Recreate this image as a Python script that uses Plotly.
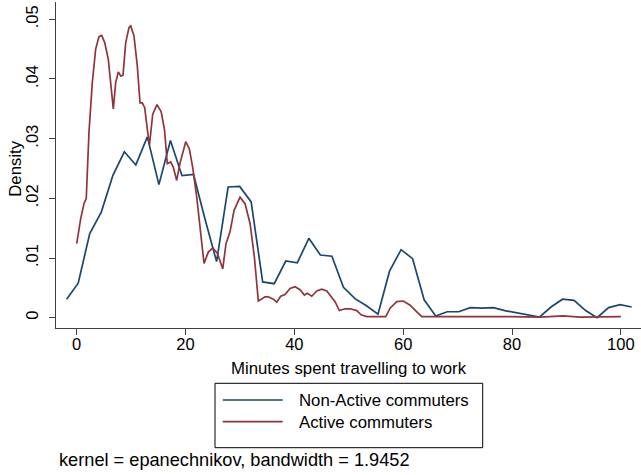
import plotly.graph_objects as go

# ---- data ----
x_nonactive = [-1.84, 0.28, 2.40, 4.52, 6.64, 8.76, 10.87, 12.99, 15.11, 17.23,
               19.35, 21.47, 23.59, 25.71, 27.83, 29.95, 32.06, 34.18, 36.30, 38.42,
               40.54, 42.66, 44.78, 46.90, 49.02, 51.14, 53.25, 55.37, 57.49, 59.61,
               61.73, 63.85, 65.97, 68.09, 70.21, 72.33, 74.44, 76.56, 78.68, 80.80,
               82.92, 85.04, 87.16, 89.28, 91.40, 93.52, 95.63, 97.75, 99.87, 101.99]
y_nonactive = [0.0031, 0.0058, 0.0141, 0.0177, 0.0238, 0.0278, 0.0256, 0.0303, 0.0223, 0.0297,
               0.0238, 0.0240, 0.0165, 0.0094, 0.0219, 0.0220, 0.0194, 0.0060, 0.0057, 0.0095,
               0.0092, 0.0133, 0.0105, 0.0103, 0.0051, 0.0032, 0.0020, 0.0006, 0.0078, 0.0114,
               0.0099, 0.0030, 0.0003, 0.0010, 0.0010, 0.0017, 0.0016, 0.0017, 0.0012, 0.0008,
               0.0005, 0.0001, 0.0018, 0.0031, 0.0029, 0.0012, 0.0000, 0.0017, 0.0022, 0.0018]

x_active = [0.0, 0.74, 1.34, 1.76, 2.26, 2.87, 3.49, 4.10, 4.60, 5.15,
            5.81, 6.36, 6.73, 7.17, 7.65, 8.09, 8.51, 9.01, 9.61, 9.93,
            10.53, 11.14, 11.64, 12.06, 12.50, 12.98, 13.38, 13.97, 14.76, 15.53,
            16.14, 16.65, 17.28, 17.76, 18.38, 18.99, 20.04, 20.70, 21.32, 22.06,
            22.67, 23.40, 24.19, 25.00, 25.85, 26.84, 27.44, 28.18, 28.92, 30.02,
            30.94, 31.86, 32.65, 33.38, 34.61, 35.22, 36.14, 36.76, 37.50, 38.29,
            39.21, 40.13, 41.05, 41.84, 42.39, 43.20, 44.12, 45.04, 45.96, 46.88,
            47.48, 48.27, 49.32, 50.24, 51.47, 52.26, 53.31, 55.15, 56.80, 57.59,
            58.82, 60.04, 61.27, 62.50, 63.42, 64.9, 68.6, 72.3, 76.0, 79.7,
            85.2, 89.4, 92.5, 96.2, 100.0]
y_active = [0.0124, 0.0166, 0.0191, 0.0200, 0.0311, 0.0394, 0.0450, 0.0471, 0.0473, 0.0461,
            0.0433, 0.0383, 0.0350, 0.0394, 0.0412, 0.0405, 0.0406, 0.0461, 0.0486, 0.0489,
            0.0472, 0.0422, 0.0360, 0.0360, 0.0352, 0.0316, 0.0289, 0.0341, 0.0357, 0.0345,
            0.0315, 0.0258, 0.0261, 0.0252, 0.0230, 0.0259, 0.0295, 0.0283, 0.0252, 0.0202,
            0.0146, 0.0091, 0.0110, 0.0117, 0.0108, 0.0082, 0.0124, 0.0144, 0.0180, 0.0202,
            0.0191, 0.0158, 0.0102, 0.0028, 0.0035, 0.0035, 0.0031, 0.0026, 0.0036, 0.0039,
            0.0049, 0.0052, 0.0047, 0.0038, 0.0041, 0.0036, 0.0045, 0.0048, 0.0045, 0.0035,
            0.0027, 0.0012, 0.0015, 0.0015, 0.0012, 0.0005, 0.0002, 0.0002, 0.0002, 0.0016,
            0.0027, 0.0028, 0.0021, 0.0010, 0.0002, 0.0002, 0.0002, 0.0003, 0.0003, 0.0002,
            0.0001, 0.0003, 0.0001, 0.0002, 0.0002]

series_names = ["Non-Active commuters", "Active commuters"]
series_colors = ["#1a476f", "#90353b"]
x_tick_vals = [0, 20, 40, 60, 80, 100]
y_tick_vals = [0, 0.01, 0.02, 0.03, 0.04, 0.05]
y_tick_text = ["0", ".01", ".02", ".03", ".04", ".05"]
x_title = "Minutes spent travelling to work"
y_title = "Density"
note_text = "kernel = epanechnikov, bandwidth = 1.9452"

# ---- layout geometry (pixels) ----
W, H = 641, 475
ML, MR, MT, MB = 56, 0, 2, 147
PW, PH = W - ML - MR, H - MT - MB
FONT = "Liberation Sans, Arial, sans-serif"
AXC = "#404040"


def px(x):
    return (x - ML) / PW


def py(y):
    return (H - MB - y) / PH


fig = go.Figure()
for xs, ys, name, col in [(x_nonactive, y_nonactive, series_names[0], series_colors[0]),
                          (x_active, y_active, series_names[1], series_colors[1])]:
    fig.add_trace(go.Scatter(x=xs, y=ys, mode="lines", name=name,
                             line=dict(color=col, width=1.7), showlegend=False))

fig.update_layout(
    width=W, height=H,
    margin=dict(l=ML, r=MR, t=MT, b=MB, pad=0),
    paper_bgcolor="white", plot_bgcolor="white",
    font=dict(family=FONT, size=16, color="#000000"),
    xaxis=dict(range=[-3.8, 103.7], tickvals=x_tick_vals, showgrid=False, zeroline=False,
               showline=True, linecolor=AXC, linewidth=1.3, ticks="outside", ticklen=6,
               tickcolor=AXC, tickwidth=1.3, tickfont=dict(size=16.5), ticklabelstandoff=-5),
    yaxis=dict(range=[-0.00172, 0.0529], tickvals=y_tick_vals, ticktext=y_tick_text,
               showgrid=False, zeroline=False, showline=True, linecolor=AXC, linewidth=1.3,
               ticks="outside", ticklen=6, tickcolor=AXC, tickwidth=1.3, tickangle=-90,
               tickfont=dict(size=16.5), ticklabelstandoff=4),
)

ann = []
ann.append(dict(text=x_title, x=px(348.5), y=py(368), xanchor="center", yanchor="middle",
                font=dict(size=16.8)))
ann.append(dict(text=y_title, x=px(15.5), y=py(168.3), xanchor="center", yanchor="middle",
                textangle=-90, font=dict(size=16.8)))
ann.append(dict(text=note_text, x=px(57), y=py(460), xanchor="left", yanchor="middle",
                font=dict(size=18.2)))
leg_y = [400.5, 422.5]
for name, yy in zip(series_names, leg_y):
    ann.append(dict(text=name, x=px(296.5), y=py(yy), xanchor="left", yanchor="middle",
                    font=dict(size=16.8)))
for a in ann:
    a.update(xref="paper", yref="paper", showarrow=False)
fig.update_layout(annotations=ann)

shapes = [dict(type="rect", xref="paper", yref="paper", x0=px(215), x1=px(482.7),
               y0=py(447.7), y1=py(383.3), line=dict(color="#000000", width=1))]
for col, yy in zip(series_colors, [400, 421.7]):
    shapes.append(dict(type="line", xref="paper", yref="paper", x0=px(222.7), x1=px(282.7),
                       y0=py(yy), y1=py(yy), line=dict(color=col, width=1.7)))
fig.update_layout(shapes=shapes)

fig.write_html("out.html")
